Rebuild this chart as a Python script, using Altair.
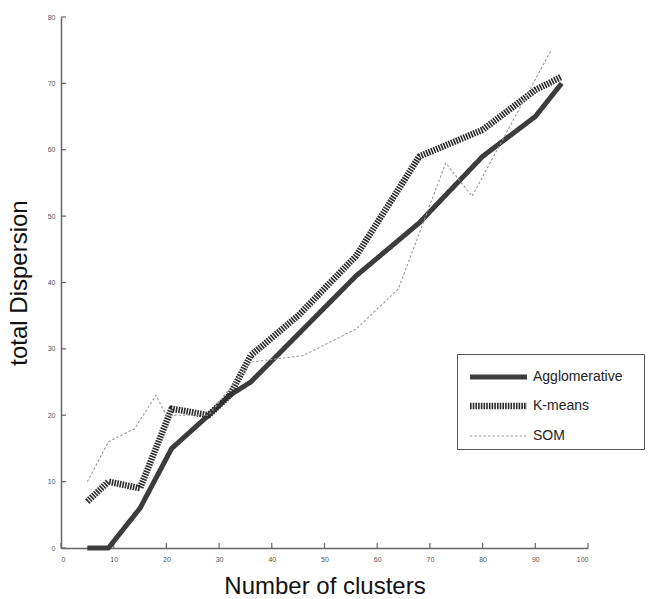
import altair as alt
import pandas as pd

agg_x = [5, 9, 15, 21, 28, 32, 36, 46, 56, 68, 80, 90, 95]
agg_y = [0, 0, 6, 15, 20, 23, 25, 33, 41, 49, 59, 65, 70]
km_x = [5, 9, 15, 21, 28, 32, 36, 45, 56, 68, 80, 90, 95]
km_y = [7, 10, 9, 21, 20, 23, 29, 35, 44, 59, 63, 69, 71]
som_x = [5, 9, 14, 18, 20, 28, 36, 46, 56, 64, 73, 78, 93]
som_y = [10, 16, 18, 23, 20, 20, 28, 29, 33, 39, 58, 53, 75]
series = ["Agglomerative", "K-means", "SOM"]
x_ticks = [0, 10, 20, 30, 40, 50, 60, 70, 80, 90, 100]
y_ticks = [0, 10, 20, 30, 40, 50, 60, 70, 80]

rows = []
for name, xs, ys in [(series[0], agg_x, agg_y), (series[1], km_x, km_y), (series[2], som_x, som_y)]:
    for i, (a, b) in enumerate(zip(xs, ys)):
        rows.append({"method": name, "k": a, "d": b, "order": i})
df = pd.DataFrame(rows)

W, H = 527, 531
FONT = "Liberation Sans"

xs = alt.Scale(domain=[0, 100], nice=False)
ys = alt.Scale(domain=[0, 80], nice=False)

lines = alt.Chart(df).mark_line(strokeCap="butt", strokeJoin="round").encode(
    x=alt.X("k:Q", scale=xs,
            axis=alt.Axis(title="Number of clusters", values=x_ticks, ticks=False, grid=False,
                          labelFontSize=7, labelColor="#555", labelPadding=7,
                          domainColor="#666", domainWidth=1.5,
                          titleFontSize=24, titleFontWeight="normal", titleColor="#111",
                          titlePadding=12, titleFont=FONT, labelFont=FONT)),
    y=alt.Y("d:Q", scale=ys,
            axis=alt.Axis(title="total Dispersion", values=y_ticks, ticks=False, grid=False,
                          labelFontSize=7, labelColor="#555", labelPadding=6,
                          domainColor="#666", domainWidth=1.5,
                          titleFontSize=24, titleFontWeight="normal", titleColor="#111",
                          titlePadding=16, titleFont=FONT, labelFont=FONT)),
    color=alt.Color("method:N", sort=series,
                    scale=alt.Scale(domain=series, range=["#3c3c3c", "#2a2a2a", "#9a9a9a"]),
                    legend=alt.Legend(title="\u00a0", titleOrient="right", titlePadding=16,
                                      titleFontSize=2,
                                      orient="none", legendX=396, legendY=337,
                                      symbolType="M-2,0H2", symbolSize=812, symbolOffset=18,
                                      labelFontSize=14, labelColor="#222", labelFont=FONT,
                                      strokeColor="#555", padding=6, rowPadding=1.5,
                                      labelOffset=17, offset=0, fillColor="white",
                                      labelLimit=250)),
    strokeWidth=alt.StrokeWidth("method:N", sort=series,
                                scale=alt.Scale(type="ordinal", domain=series, range=[5, 6.5, 1.1]),
                                legend=None),
    strokeDash=alt.StrokeDash("method:N", sort=series,
                              scale=alt.Scale(domain=series, range=[[1, 0], [1.6, 1.1], [2.5, 2]]),
                              legend=None),
    order="order:Q",
)

xt = pd.DataFrame({"t": x_ticks})
yt = pd.DataFrame({"t": y_ticks})
xtick_layer = alt.Chart(xt).mark_rule(color="#666", strokeWidth=1.2).encode(
    x=alt.X("t:Q", scale=xs), y=alt.value(H), y2=alt.value(H - 5))
ytick_layer = alt.Chart(yt).mark_rule(color="#666", strokeWidth=1.2).encode(
    y=alt.Y("t:Q", scale=ys), x=alt.value(0), x2=alt.value(5))

chart = alt.layer(xtick_layer, ytick_layer, lines).properties(
    width=W, height=H,
    background="white",
    autosize=alt.AutoSizeParams(type="none"),
    padding={"left": 61, "top": 17, "right": 65, "bottom": 51},
).configure_view(stroke=None)

chart.save("out.html", embed_options={"renderer": "svg", "actions": False})
